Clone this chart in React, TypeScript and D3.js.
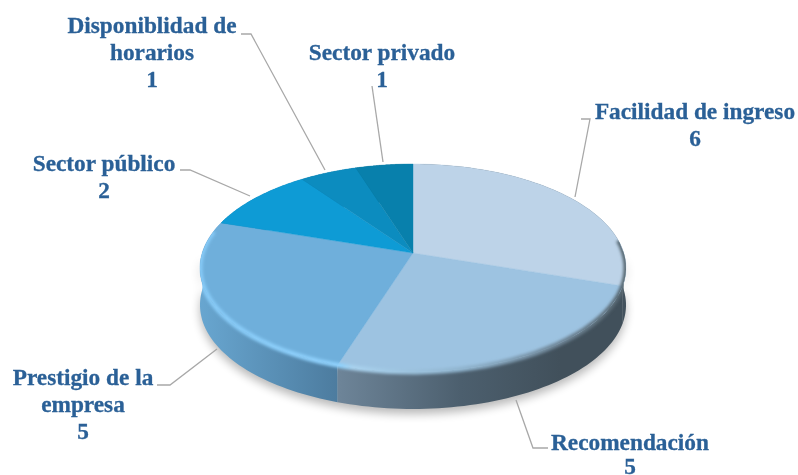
import React from "react";
import * as d3 from "d3";

const categories = ["Facilidad de ingreso", "Recomendación", "Prestigio de la empresa", "Sector público", "Disponiblidad de horarios", "Sector privado"];
const values = [6, 5, 5, 2, 1, 1];
const faceColors = ["#bdd3e8", "#9dc3e1", "#6fafdb", "#0e9bd5", "#0c8cbf", "#0880ac"];
const sideColors = ["#43525d", "url(#sideDark)", "url(#sideBlue)", "#0a78a5", "#0a6d96", "#086289"];

const labels = [
  { lines: ["Facilidad de ingreso", "6"], x: 695, y: 119, step: 27 },
  { lines: ["Recomendación", "5"], x: 630, y: 450, step: 23.5 },
  { lines: ["Prestigio de la", "empresa", "5"], x: 83, y: 385, step: 27 },
  { lines: ["Sector público", "2"], x: 104, y: 171, step: 27 },
  { lines: ["Disponiblidad de", "horarios", "1"], x: 152, y: 33, step: 27 },
  { lines: ["Sector privado", "1"], x: 382, y: 60, step: 27 },
];
const leaders: [number, number][][] = [
  [[581, 119], [590, 119], [575, 197]],
  [[548, 448], [533, 448], [516, 400]],
  [[157, 385], [170, 385], [217, 349]],
  [[180, 170], [190, 170], [250, 196]],
  [[241, 34], [251, 34], [325, 170]],
  [[372, 86], [383, 162]],
];

const cx = 413, cy = 253, depth = 37;
const k = -0.144, a = 101.8, b = 210.8;

// tilted disc, nearer edge comes out bigger
const project = (angle: number, drop = 0): [number, number] => {
  const u = Math.sin(angle), v = -Math.cos(angle);
  const w = 1 + k * v;
  return [cx + (b * u) / w, cy + (a * v) / w + drop];
};

const arcPoints = (start: number, end: number, drop = 0) =>
  d3.range(0, 61).map(i => project(start + ((end - start) * i) / 60, drop));

const line = d3.line();
const slices = d3.pie<number>().sort(null)(values);

const topPath = (s: d3.PieArcDatum<number>) =>
  line([[cx, cy], ...arcPoints(s.startAngle, s.endAngle)]) + "Z";
const sidePath = (s: d3.PieArcDatum<number>) =>
  line([...arcPoints(s.startAngle, s.endAngle), ...arcPoints(s.startAngle, s.endAngle, depth).reverse()]) + "Z";

const fullTop = line(arcPoints(0, Math.PI * 2)) + "Z";
const silhouette = line([...arcPoints(Math.PI * 0.5, Math.PI * 1.5), ...arcPoints(Math.PI * 0.5, Math.PI * 1.5, depth).reverse()]) + "Z";
const rim = line(arcPoints(Math.PI * 0.46, Math.PI * 1.57));

export default function App() {
  return (
    <svg width={798} height={475} style={{ position: "fixed", left: 0, top: 0, background: "#fff" }}>
      <defs>
        <linearGradient id="sideDark" gradientUnits="userSpaceOnUse" x1={340} x2={560} y1={0} y2={0}>
          <stop offset="0" stopColor="#6d8498" />
          <stop offset="0.55" stopColor="#4c5f6e" />
          <stop offset="1" stopColor="#41505b" />
        </linearGradient>
        <linearGradient id="sideBlue" gradientUnits="userSpaceOnUse" x1={200} x2={340} y1={0} y2={0}>
          <stop offset="0" stopColor="#68a6d0" />
          <stop offset="1" stopColor="#4c7b9e" />
        </linearGradient>
        <linearGradient id="rimGrad" gradientUnits="userSpaceOnUse" x1={200} x2={626} y1={0} y2={0}>
          <stop offset="0" stopColor="#86caf7" />
          <stop offset="0.33" stopColor="#8ed0fb" />
          <stop offset="0.36" stopColor="#a9d2ee" />
          <stop offset="0.62" stopColor="#8fb3cd" />
          <stop offset="0.85" stopColor="#6d8394" />
          <stop offset="1" stopColor="#56666f" />
        </linearGradient>
        <clipPath id="discClip">
          <path d={fullTop} />
          <path d={silhouette} />
        </clipPath>
        <filter id="soft" x="-10%" y="-20%" width="120%" height="140%">
          <feGaussianBlur stdDeviation="5" />
        </filter>
        <filter id="bevel" x="-5%" y="-10%" width="110%" height="120%">
          <feGaussianBlur stdDeviation="1.6" />
        </filter>
        <filter id="textSoft" x="-5%" y="-5%" width="110%" height="110%">
          <feGaussianBlur stdDeviation="0.35" />
        </filter>
      </defs>

      <path d={silhouette} transform="translate(0,5)" fill="#000" opacity={0.28} filter="url(#soft)" />

      {leaders.map((pts, i) => (
        <path key={i} d={line(pts) ?? ""} fill="none" stroke="#a8a8a8" strokeWidth={1.3} />
      ))}

      {slices.map((s, i) => (
        <path key={i} d={sidePath(s)} fill={sideColors[i]} />
      ))}
      {slices.map((s, i) => (
        <path key={i} d={topPath(s)} fill={faceColors[i]} stroke={faceColors[i]} strokeWidth={0.4} />
      ))}
      <g clipPath="url(#discClip)">
        <path d={rim ?? ""} fill="none" stroke="url(#rimGrad)" strokeWidth={5} filter="url(#bevel)" />
      </g>

      <g fontFamily="Liberation Serif" fontWeight="bold" fontSize={23.3} fill="#2c6197" stroke="#2c6197" strokeWidth={0.3} textAnchor="middle" filter="url(#textSoft)">
        {labels.map((l, i) => (
          <text key={categories[i]} x={l.x} y={l.y}>
            {l.lines.map((t, j) => (
              <tspan key={j} x={l.x} y={l.y + j * l.step}>{t}</tspan>
            ))}
          </text>
        ))}
      </g>
    </svg>
  );
}
